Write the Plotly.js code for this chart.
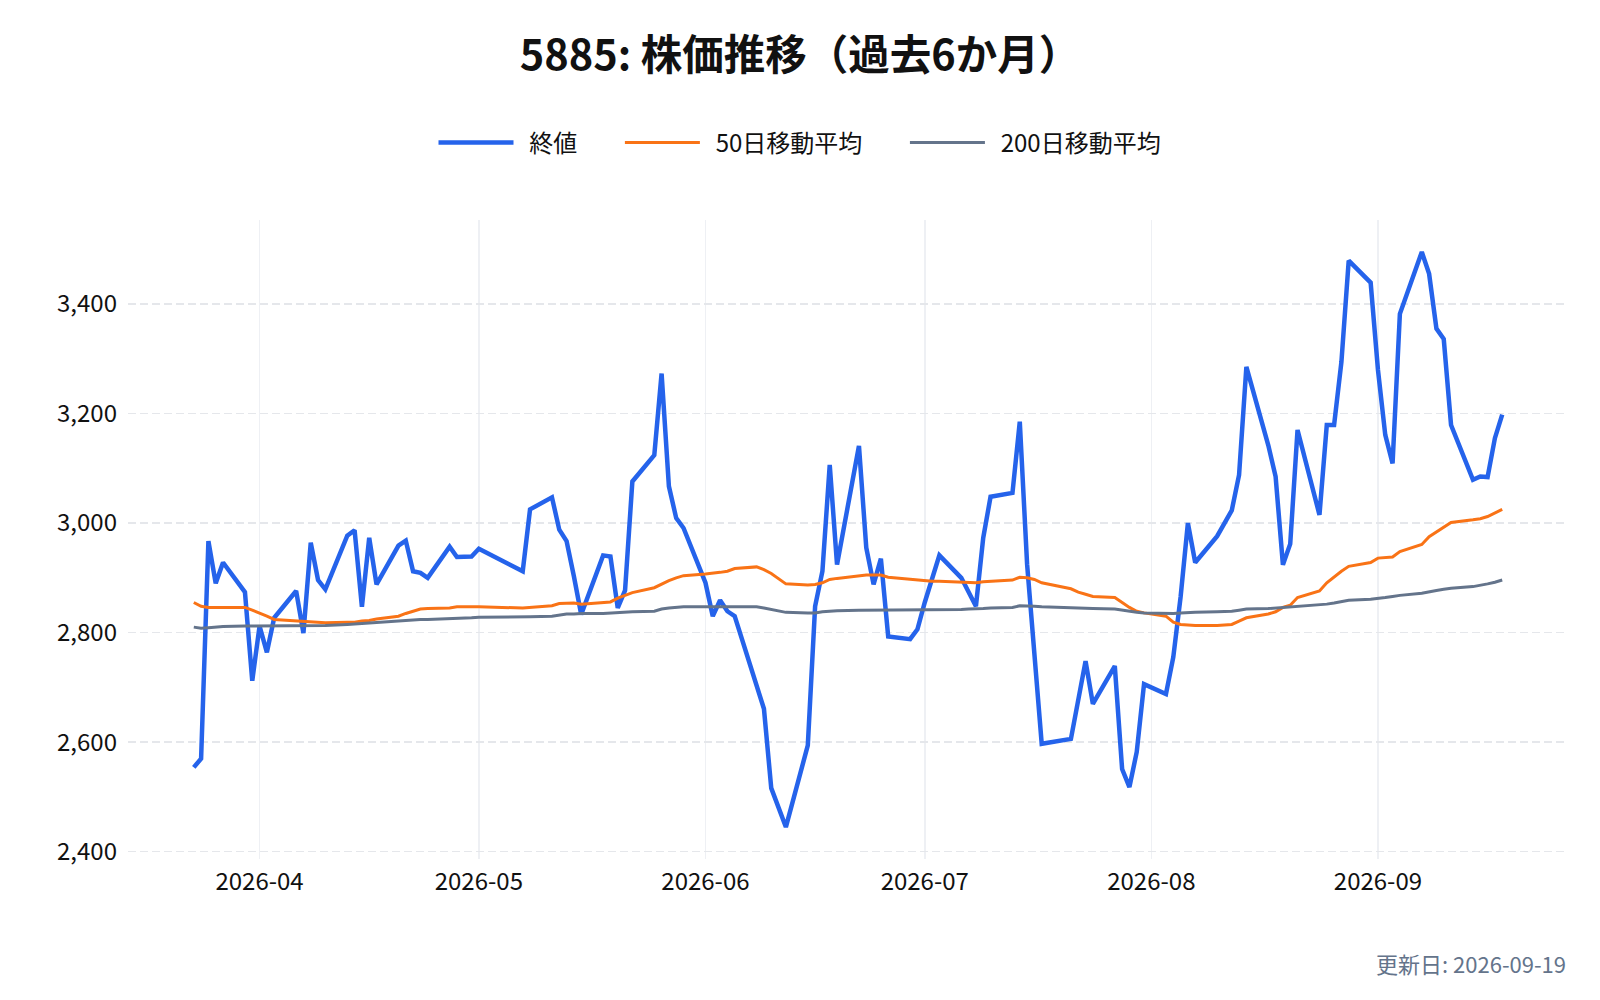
<!DOCTYPE html>
<html>
<head>
<meta charset="utf-8">
<script src="https://cdn.plot.ly/plotly-3.0.1.min.js"></script>
<style>
  html, body { margin: 0; padding: 0; background: #fff; }
  #chart { width: 1600px; height: 1000px; }
</style>
</head>
<body>
<div id="chart"></div>
<script>
/* 5885 株価推移（過去6か月）: 終値 + 50日 / 200日移動平均 */

var dates = [
  '2026-03-23','2026-03-24','2026-03-25','2026-03-26','2026-03-27','2026-03-30','2026-03-31',
  '2026-04-01','2026-04-02','2026-04-03','2026-04-06','2026-04-07','2026-04-08','2026-04-09','2026-04-10',
  '2026-04-13','2026-04-14','2026-04-15','2026-04-16','2026-04-17','2026-04-20','2026-04-21','2026-04-22',
  '2026-04-23','2026-04-24','2026-04-27','2026-04-28','2026-04-30',
  '2026-05-01','2026-05-07','2026-05-08','2026-05-11','2026-05-12','2026-05-13','2026-05-14','2026-05-15',
  '2026-05-18','2026-05-19','2026-05-20','2026-05-21','2026-05-22','2026-05-25','2026-05-26','2026-05-27',
  '2026-05-28','2026-05-29',
  '2026-06-01','2026-06-02','2026-06-03','2026-06-04','2026-06-05','2026-06-08','2026-06-09','2026-06-10',
  '2026-06-11','2026-06-12','2026-06-15','2026-06-16','2026-06-17','2026-06-18','2026-06-19','2026-06-22',
  '2026-06-23','2026-06-24','2026-06-25','2026-06-26','2026-06-29','2026-06-30',
  '2026-07-01','2026-07-02','2026-07-03','2026-07-06','2026-07-07','2026-07-08','2026-07-09','2026-07-10',
  '2026-07-13','2026-07-14','2026-07-15','2026-07-16','2026-07-17','2026-07-21','2026-07-22','2026-07-23',
  '2026-07-24','2026-07-27','2026-07-28','2026-07-29','2026-07-30','2026-07-31',
  '2026-08-03','2026-08-04','2026-08-05','2026-08-06','2026-08-07','2026-08-10','2026-08-12','2026-08-13',
  '2026-08-14','2026-08-17','2026-08-18','2026-08-19','2026-08-20','2026-08-21','2026-08-24','2026-08-25',
  '2026-08-26','2026-08-27','2026-08-28','2026-08-31',
  '2026-09-01','2026-09-02','2026-09-03','2026-09-04','2026-09-07','2026-09-08','2026-09-09','2026-09-10',
  '2026-09-11','2026-09-14','2026-09-15','2026-09-16','2026-09-17','2026-09-18'
];

var close = [
  2554, 2570, 2967, 2890, 2928, 2874, 2712,
  2812, 2764, 2827, 2876, 2799, 2964, 2896, 2879,
  2977, 2987, 2847, 2973, 2888, 2959, 2968, 2912,
  2909, 2900, 2957, 2938, 2939,
  2953, 2912, 3025, 3047, 2988, 2967, 2903, 2833,
  2941, 2939, 2845, 2877, 3076, 3124, 3273, 3067,
  3009, 2991,
  2891, 2830, 2859, 2839, 2830, 2705, 2661, 2516,
  2482, 2445, 2594, 2848, 2912, 3106, 2924, 3141,
  2955, 2888, 2935, 2793, 2788, 2806,
  2855, 2900, 2941, 2900, 2874, 2848, 2973, 3048,
  3055, 3185, 2925, 2760, 2597, 2606, 2672, 2748,
  2670, 2739, 2551, 2518, 2582, 2706,
  2688, 2755, 2865, 3000, 2928, 2976, 3023, 3088,
  3285, 3142, 3085, 2924, 2962, 3170, 3015, 3179,
  3179, 3294, 3479, 3439,
  3280, 3161, 3109, 3382, 3495, 3455, 3355, 3336,
  3179, 3079, 3085, 3084, 3155, 3198
];

var ma50 = [
  2855, 2848, 2846, 2846, 2846, 2846, 2841,
  2836, 2830, 2824, 2821, 2820, 2819, 2819, 2818,
  2819, 2819, 2821, 2822, 2825, 2830, 2835, 2839,
  2843, 2844, 2845, 2847, 2847,
  2847, 2845, 2846, 2849, 2853, 2854, 2854, 2852,
  2854, 2856, 2863, 2868, 2873, 2882, 2889, 2895,
  2900, 2904,
  2907, 2908, 2910, 2912, 2917, 2920, 2915, 2908,
  2898, 2889, 2887, 2888, 2891, 2897, 2899, 2904,
  2905, 2905, 2905, 2901, 2897, 2896,
  2894, 2894, 2894, 2893, 2892, 2891, 2893, 2894,
  2896, 2901, 2900, 2897, 2891, 2880, 2874, 2870,
  2866, 2864, 2855, 2846, 2839, 2836,
  2830, 2819, 2815, 2814, 2813, 2813, 2815, 2821,
  2827, 2834, 2838, 2846, 2850, 2864, 2876, 2891,
  2902, 2912, 2921, 2928,
  2936, 2937, 2938, 2948, 2961, 2975, 2984, 2992,
  3001, 3006, 3008, 3012, 3018, 3025
];

var ma200 = [
  2810, 2808, 2809, 2810, 2811, 2812, 2812,
  2812, 2812, 2812, 2812, 2812, 2812, 2813, 2813,
  2815, 2816, 2817, 2818, 2819, 2821, 2822, 2823,
  2824, 2824, 2825, 2826, 2827,
  2828, 2828, 2829, 2830, 2832, 2834, 2834, 2835,
  2835, 2836, 2836, 2837, 2838, 2839, 2843, 2845,
  2846, 2847,
  2847, 2847, 2847, 2847, 2847, 2847, 2845, 2842,
  2840, 2837, 2836, 2836, 2838, 2839, 2840, 2841,
  2841, 2842, 2842, 2842, 2841, 2841,
  2841, 2842, 2842, 2842, 2843, 2843, 2844, 2845,
  2846, 2849, 2849, 2848, 2847, 2846, 2845, 2845,
  2844, 2843, 2841, 2838, 2837, 2836,
  2835, 2835, 2836, 2837, 2837, 2838, 2839, 2841,
  2843, 2844, 2845, 2846, 2847, 2848, 2850, 2852,
  2854, 2856, 2859, 2861,
  2862, 2864, 2866, 2868, 2872, 2875, 2877, 2879,
  2881, 2884, 2886, 2889, 2892, 2896
];

var seriesNames = ['終値', '50日移動平均', '200日移動平均'];
var xRange = ['2026-03-14', '2026-09-27'];
var updatedOn = '2026-09-19';

var FONT = "'Noto Sans CJK JP', 'Noto Sans', sans-serif";
var C = {
  close: '#2563eb',
  ma50:  '#f97316',
  ma200: '#64748b',
  text:  '#111111',
  muted: '#64748b'
};

// 凡例の間隔を広げるための余白（NBSP）
var NB = '\u00a0';
function pad(s, lead, trail) {
  return NB.repeat(lead) + s + NB.repeat(trail);
}

var traces = [
  {
    type: 'scatter', mode: 'lines', name: pad(seriesNames[0], 2, 7),
    x: dates, y: close,
    line: { color: C.close, width: 4.5 }
  },
  {
    type: 'scatter', mode: 'lines', name: pad(seriesNames[1], 2, 7),
    x: dates, y: ma50,
    line: { color: C.ma50, width: 3 }
  },
  {
    type: 'scatter', mode: 'lines', name: pad(seriesNames[2], 2, 0),
    x: dates, y: ma200,
    line: { color: C.ma200, width: 3 }
  }
];

var layout = {
  width: 1600,
  height: 1000,
  paper_bgcolor: '#ffffff',
  plot_bgcolor: '#ffffff',
  font: { family: FONT, color: C.text, size: 24 },
  margin: { l: 128, r: 32, t: 220, b: 141 },
  title: {
    text: '5885: 株価推移（過去6か月）',
    font: { family: FONT, size: 41.5, color: C.text, weight: 'bold' },
    x: 0.5, xref: 'container', xanchor: 'center',
    y: 0.945, yref: 'container', yanchor: 'middle'
  },
  showlegend: true,
  legend: {
    orientation: 'h',
    x: 0.5, xref: 'container', xanchor: 'center',
    y: 0.857, yref: 'container', yanchor: 'middle',
    font: { family: FONT, size: 24, color: C.text },
    itemwidth: 75,
    bgcolor: 'rgba(0,0,0,0)'
  },
  xaxis: {
    type: 'date',
    range: xRange,
    dtick: 'M1',
    tick0: '2026-01-01',
    tickformat: '%Y-%m',
    showgrid: true,
    gridcolor: '#eef0f4',
    gridwidth: 1.5,
    zeroline: false,
    showline: false,
    ticks: '',
    ticklabelstandoff: 6,
    tickfont: { family: FONT, size: 24, color: C.text },
    fixedrange: true
  },
  yaxis: {
    dtick: 200,
    tickformat: ',d',
    showgrid: true,
    gridcolor: '#e5e7eb',
    gridwidth: 1.5,
    griddash: '8px,4px',
    zeroline: false,
    showline: false,
    ticks: '',
    ticklabelstandoff: 10,
    tickfont: { family: FONT, size: 24, color: C.text },
    fixedrange: true
  },
  annotations: [{
    text: '更新日: ' + updatedOn,
    xref: 'paper', yref: 'paper',
    x: 1, y: -0.163,
    xanchor: 'right', yanchor: 'middle',
    showarrow: false,
    font: { family: FONT, size: 22, color: C.muted }
  }]
};

Plotly.newPlot('chart', traces, layout, { displayModeBar: false, staticPlot: true });
</script>
</body>
</html>
